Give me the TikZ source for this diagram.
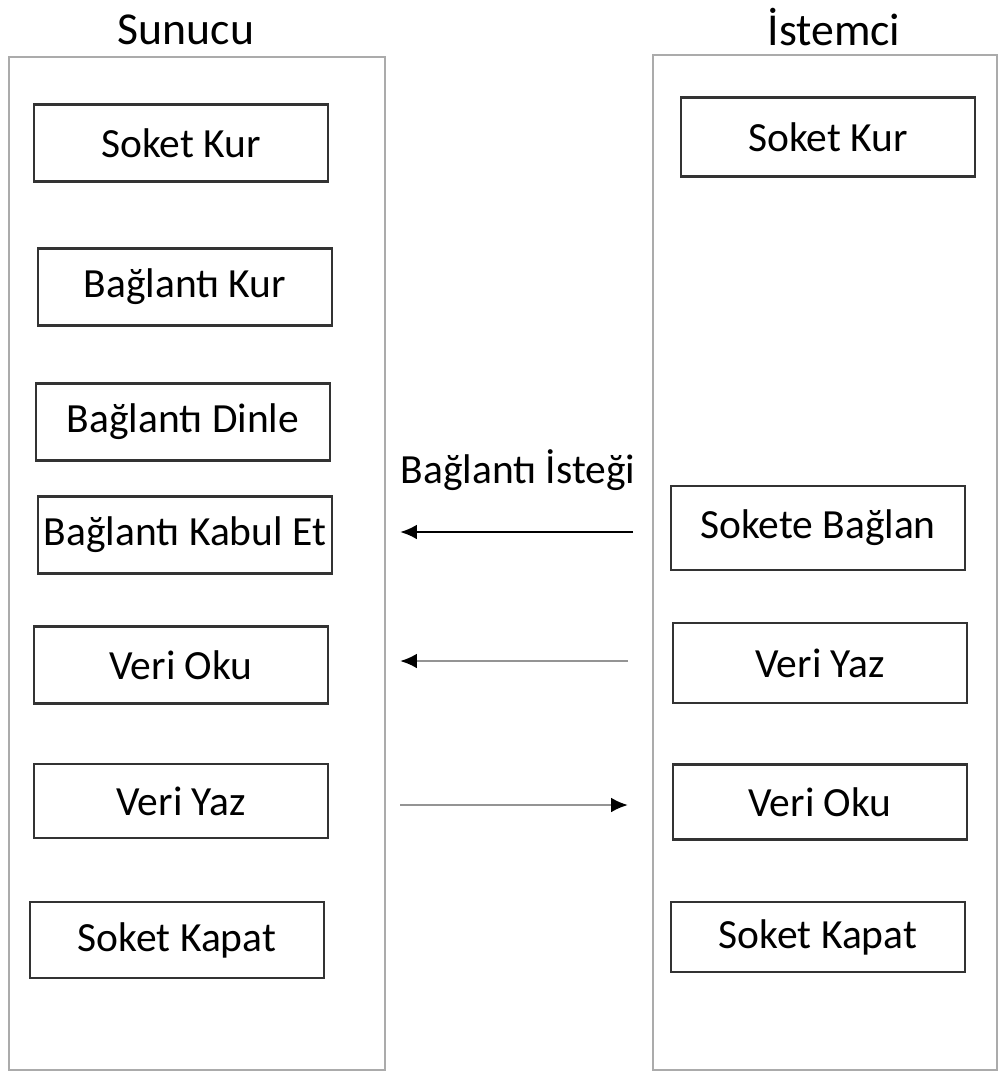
\documentclass[tikz,border=0pt]{standalone}
\usepackage{fontspec}
\setmainfont{Carlito}
\usetikzlibrary{arrows.meta}
\colorlet{framegray}{black!33}
\colorlet{linegray}{black!42}

\begin{document}
\begin{tikzpicture}[
            x=0.01cm, y=-0.01cm,
            adim/.style={draw=black!80, line width=0.6pt, minimum width=2.93cm,
                minimum height=0.77cm, inner sep=0pt, font=\fontsize{11.8}{14}\selectfont},
            baslik/.style={font=\fontsize{13}{16}\selectfont},
            ok/.style={-{Latex[length=4.8pt,width=4.2pt,color=black]}, linegray, line width=0.7pt}
        ]
            \useasboundingbox (0,0) rectangle (1000,1075);

            % cerceveler
            \draw [framegray, line width=0.45pt] (9,57) rectangle (385,1070);
            \draw [framegray, line width=0.45pt] (653,55) rectangle (997,1070);
            \node [baslik] (sunucu) at (186,30) {Sunucu};
            \node [baslik] (istemci) at (834,27) {İstemci};

            % sunucu
            \node [adim] (s1) at (181,143) {Soket Kur};
            \node [adim] (s2) at (185,287) {Bağlantı Kur};
            \node [adim] (s3) at (183,422) {Bağlantı Dinle};
            \node [adim] (s4) at (185,535) {Bağlantı Kabul Et};
            \node [adim] (s5) at (181,665) {Veri Oku};
            \node [adim, minimum height=0.74cm] (s6) at (181,801) {Veri Yaz};
            \node [adim, minimum height=0.76cm] (s7) at (177,940) {Soket Kapat};

            % istemci
            \node [adim, minimum height=0.79cm] (i1) at (828,137) {Soket Kur};
            \node [adim, minimum height=0.84cm] (i2) at (818,528) {Sokete Bağlan};
            \node [adim, minimum height=0.80cm] (i3) at (820,663) {Veri Yaz};
            \node [adim, minimum height=0.75cm] (i4) at (820,802) {Veri Oku};
            \node [adim, minimum height=0.70cm] (i5) at (818,937) {Soket Kapat};

            % mesajlar
            \coordinate (istekA) at (633,532);
            \coordinate (istekB) at (400,532);
            \coordinate (yazA) at (628,661);
            \coordinate (yazB) at (400,661);
            \coordinate (okuA) at (400,805);
            \coordinate (okuB) at (628,805);

            \node [font=\fontsize{11.8}{14}\selectfont] (istek) at (518,470) {Bağlantı İsteği};
            \draw [ok, black] (istekA) -- (istekB);
            \draw [ok] (yazA) -- (yazB);
            \draw [ok] (okuA) -- (okuB);
        \end{tikzpicture}
\end{document}
